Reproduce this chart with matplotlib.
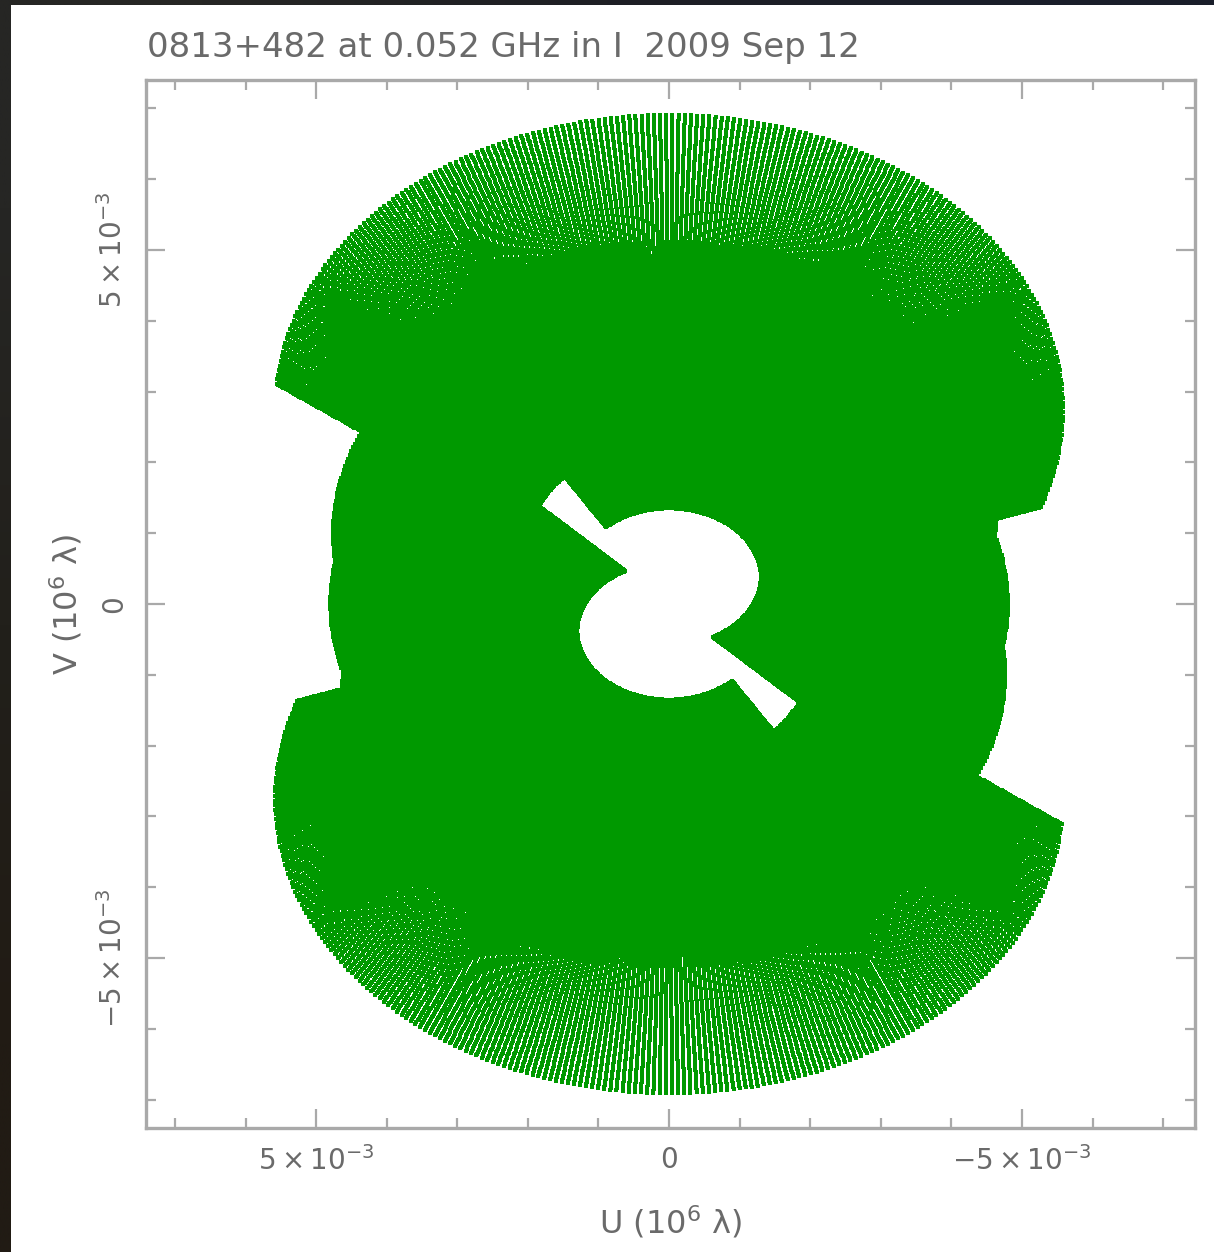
import numpy as np
import matplotlib
matplotlib.use('Agg')
import matplotlib.pyplot as plt
from matplotlib.ticker import MultipleLocator

# observation setup
source = '0813+482'
obs_freq_ghz = 0.052
obs_date = '2009 Sep 12'
latitude_deg = 52.9
declination_deg = 48.2
ha_range_deg = [-97.5, 97.5]
ha_step_deg = 0.9
chan_range_mhz = [39.0, 66.0]
n_chan = 100

# baseline vectors in km (east, north)
bl_east_km = [-8.11, -13.60, -17.14, 10.27, 21.80, 20.42, 19.64,
              -4.10, 5.77, 11.80, -11.34, -5.48]
bl_north_km = [7.31, 12.24, 15.43, 14.67, 0.00, 5.47, 11.34,
               23.24, 21.53, 20.44, 19.64, 31.03]

# axis ticks
xtick_vals = [5e-3, 0.0, -5e-3]
ytick_vals = [5e-3, 0.0, -5e-3]
tick_text = [r'$5\times10^{-3}$', '0', r'$-5\times10^{-3}$']

c_light = 299792458.0
lat = np.radians(latitude_deg)
dec = np.radians(declination_deg)
H = np.radians(np.arange(ha_range_deg[0], ha_range_deg[1] + 1e-6, ha_step_deg))
freqs = np.linspace(chan_range_mhz[0], chan_range_mhz[1], n_chan)

east = np.array(bl_east_km)
north = np.array(bl_north_km)
X = -np.sin(lat) * north
Y = east
Z = np.cos(lat) * north

u_km = X[:, None] * np.sin(H) + Y[:, None] * np.cos(H)
v_km = (-np.sin(dec) * np.cos(H) * X[:, None]
        + np.sin(dec) * np.sin(H) * Y[:, None]
        + np.cos(dec) * Z[:, None])

# km -> units of 10^6 wavelengths, per channel
k = freqs * 1e3 / c_light
u = (u_km[:, None, :] * k[None, :, None]).ravel()
v = (v_km[:, None, :] * k[None, :, None]).ravel()
u = np.concatenate([u, -u])
v = np.concatenate([v, -v])

W, Hpx = 1214, 1252
fig = plt.figure(figsize=(W / 100, Hpx / 100), dpi=100)

# dark edges of the frame
ax_top = fig.add_axes([0, 1 - 5 / Hpx, 1, 5 / Hpx])
ax_top.imshow(np.array([[[38, 38, 36], [30, 31, 36], [26, 30, 42]]]) / 255,
              aspect='auto', interpolation='bilinear')
ax_top.axis('off')
ax_left = fig.add_axes([0, 0, 11 / W, 1])
ax_left.imshow(np.array([[[38, 38, 36]], [[34, 32, 27]], [[33, 27, 20]]]) / 255,
               aspect='auto', interpolation='bilinear')
ax_left.axis('off')

gray = '#a9a9a9'
txt = '#6a6a6a'

ax = fig.add_axes([146 / W, 1 - 1128 / Hpx, 1049 / W, 1048 / Hpx])
ax.scatter(u, v, s=5.0, marker='s', c='#009900', linewidths=0)
ax.set_xlim(7.41e-3, -7.45e-3)
ax.set_ylim(-7.40e-3, 7.40e-3)

for sp in ax.spines.values():
    sp.set_color(gray)
    sp.set_linewidth(2.4)

ax.set_xticks(xtick_vals)
ax.set_xticklabels(tick_text)
ax.set_yticks(ytick_vals)
ax.set_yticklabels(tick_text, rotation=90, va='center')
ax.xaxis.set_minor_locator(MultipleLocator(1e-3))
ax.yaxis.set_minor_locator(MultipleLocator(1e-3))
ax.tick_params(which='both', direction='in', top=True, right=True,
               color=gray, width=1.6, labelcolor=txt, labelsize=20)
ax.tick_params(which='major', length=14, pad=13)
ax.tick_params(which='minor', length=7)

ax.set_xlabel(r'U (10$^{6}$ λ)', fontsize=23, color=txt, labelpad=20)
ax.set_ylabel(r'V (10$^{6}$ λ)', fontsize=23, color=txt, labelpad=10)

fig.text(147 / W, 1 - 48 / Hpx,
         f'{source} at {obs_freq_ghz:.3f} GHz in I  {obs_date}',
         fontsize=24.5, color=txt, ha='left', va='center')

fig.savefig('out.png', dpi=100)
